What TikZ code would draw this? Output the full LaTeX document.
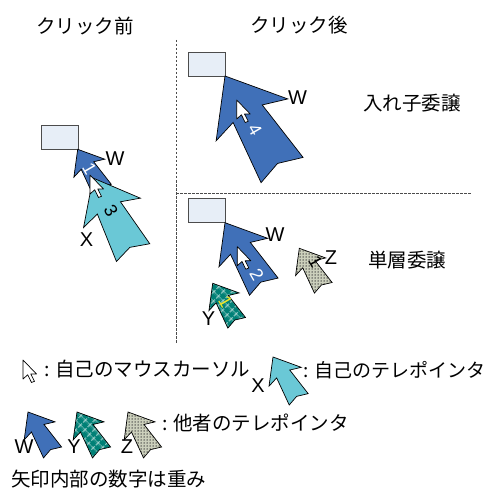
\documentclass[tikz,border=0pt]{standalone}
\usepackage{fontspec}
\setmainfont{Liberation Sans}
\newfontfamily\jp{Noto Sans CJK JP}
\usetikzlibrary{patterns,patterns.meta}
\definecolor{wblue}{RGB}{64,112,184}
\definecolor{xcyan}{RGB}{106,200,214}
\definecolor{yteal}{RGB}{0,128,118}
\definecolor{zgray}{RGB}{204,208,188}
\definecolor{winfill}{RGB}{231,238,247}
\definecolor{digityellow}{RGB}{240,230,40}

\tikzset{
  pics/telearrow/.style={code={
    \draw[#1] (0,0) -- (42,52) -- (17,44) -- (25,110) -- (0,102) -- (-24,110) -- (-17,44) -- (-41,51) -- cycle;}},
  pics/mousecursor/.style={code={
    \draw[fill=white, draw=black, line width=0.7pt, line join=round] (0,0) -- (0,19) -- (4.7,14.8) -- (8.5,22.5) -- (11.5,21.3) -- (7.8,14) -- (13.5,14) -- cycle;}},
  warrow/.style={draw=black, line width=0.7pt, fill=wblue},
  xarrow/.style={draw=black, line width=0.7pt, fill=xcyan},
  yarrow/.style={draw=black, line width=0.7pt, preaction={fill=yteal}, pattern={Hatch[angle=45,distance=6.5pt,line width=0.8pt]}, pattern color=white!85!yteal},
  zarrow/.style={draw=black, line width=0.7pt, preaction={fill=zgray}, pattern={Dots[distance=3pt,radius=0.75pt]}, pattern color=black!75},
  winbox/.style={fill=winfill, draw=black!70, line width=0.7pt},
  sepline/.style={draw=black!70, line width=0.7pt, dash pattern=on 2.5pt off 1.5pt},
  lbl/.style={font=\fontsize{20}{24}\selectfont, inner sep=0pt},
  jtxt/.style={font=\jp\fontsize{19.5}{24}\selectfont, inner sep=0pt},
  weight/.style={font=\fontsize{18}{21}\selectfont, inner sep=0pt, rotate=-60},
}

\begin{document}
\begin{tikzpicture}[x=1pt,y=-1pt]
        \useasboundingbox (0,0) rectangle (488,494);
        % headings
        \node[jtxt] (before) at (85,26) {クリック前};
        \node[jtxt] (after) at (299,25) {クリック後};
        \node[jtxt] (nested) at (412,103) {入れ子委譲};
        \node[jtxt] (single) at (407,260) {単層委譲};
        \draw[sepline] (176,40) -- (176,343);
        \draw[sepline] (176,193) -- (472,193);
        % before click
        \draw[winbox] (41,125) rectangle (78,149);
        \pic[rotate=31, scale=0.43] at (77.7,149.3) {telearrow=warrow};
        \node[weight, text=white] (oneW) at (89.5,169) {1};
        \pic[rotate=28, scale=0.77] at (93,178) {telearrow=xarrow};
        \node[weight] (threeX) at (111,211) {3};
        \pic at (90,175) {mousecursor};
        \node[lbl] (lblWa) at (115,158.5) {W};
        \node[lbl] (lblX) at (86.5,240) {X};
        % after click, nested
        \draw[winbox] (188,52) rectangle (225,76);
        \pic[rotate=31] at (225,76) {telearrow=warrow};
        \node[weight, text=white] (fourW) at (255,130) {4};
        \pic at (236.7,100) {mousecursor};
        \node[lbl] (lblWb) at (297.5,97.5) {W};
        % after click, single
        \draw[winbox] (188,198) rectangle (225,222.7);
        \pic[rotate=31, scale=0.68] at (225,222.7) {telearrow=warrow};
        \node[weight, text=white] (twoW) at (256.7,275) {2};
        \pic at (237.3,246.7) {mousecursor};
        \node[lbl] (lblWc) at (275,235) {W};
        \pic[rotate=31, scale=0.42] at (212.7,283.3) {telearrow=yarrow};
        \node[weight, text=digityellow] (oneY) at (225.5,301.5) {1};
        \node[lbl] (lblY) at (208.5,318.5) {Y};
        \pic[rotate=31, scale=0.42] at (299.3,248.3) {telearrow=zarrow};
        \node[weight] (oneZ) at (315.5,261.5) {1};
        \node[lbl] (lblZ) at (331,257.5) {Z};
        % legend
        \pic at (23,360) {mousecursor};
        \node[jtxt, anchor=west] (keyCursor) at (44,369) {: 自己のマウスカーソル};
        \pic[rotate=31, scale=0.45] at (273,357) {telearrow=xarrow};
        \node[lbl] (keyX) at (258,386) {X};
        \node[jtxt, anchor=west, font=\jp\fontsize{19}{23}\selectfont] (keySelf) at (303,370) {: 自己のテレポインタ};
        \pic[rotate=31, scale=0.43] at (28,412) {telearrow=warrow};
        \pic[rotate=31, scale=0.43] at (77,412) {telearrow=yarrow};
        \pic[rotate=31, scale=0.43] at (128,412) {telearrow=zarrow};
        \node[lbl] (keyW) at (24,447) {W};
        \node[lbl] (keyY) at (74,447) {Y};
        \node[lbl] (keyZ) at (127,447) {Z};
        \node[jtxt, anchor=west] (keyOther) at (162,423) {: 他者のテレポインタ};
        \node[jtxt, anchor=west] (keyWeight) at (11,479) {矢印内部の数字は重み};
\end{tikzpicture}
\end{document}
